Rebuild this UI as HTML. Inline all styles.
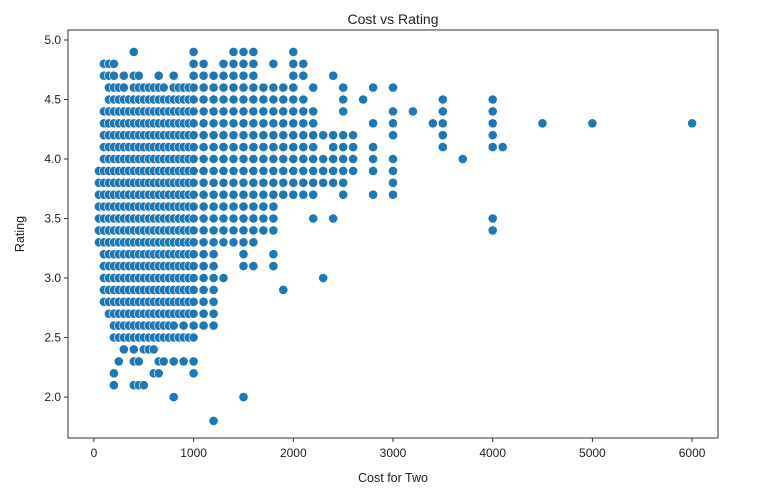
<!DOCTYPE html>
<html><head><meta charset="utf-8"><style>
body{margin:0;background:#fff;width:764px;height:492px;overflow:hidden}
svg{font-family:"Liberation Sans","DejaVu Sans",sans-serif}
</style></head><body>
<svg id="chart" width="764" height="492">
<text x="393" y="24" text-anchor="middle" font-size="14" fill="#222">Cost vs Rating</text>
<rect x="68" y="30" width="650" height="408" fill="none" stroke="#333" stroke-width="1"/>
<g id="points"></g>
<g id="xaxis"></g>
<g id="yaxis"></g>
<text x="393" y="482" text-anchor="middle" font-size="12.5" fill="#222">Cost for Two</text>
<text x="24" y="234" text-anchor="middle" font-size="12.5" fill="#222" transform="rotate(-90 24 234)">Rating</text>
</svg>
<script>
const xTicks=[0,1000,2000,3000,4000,5000,6000];
const yTicks=[2.0,2.5,3.0,3.5,4.0,4.5,5.0];
// cost for two per column
const costs=[50,100,150,200,250,300,350,400,450,500,550,600,650,700,750,800,850,900,950,1000,1100,1200,1300,1400,1500,1600,1700,1800,1900,2000,2100,2200,2300,2400,2500,2600,2700,2800,3000,3200,3400,3500,3700,4000,4100,4500,5000,6000];
// ratings (x10) per column
const ratingsX10=[
[33,34,35,36,37,38,39],
[28,29,30,31,32,33,34,35,36,37,38,39,40,41,42,43,44,47,48],
[27,28,29,30,31,32,33,34,35,36,37,38,39,40,41,42,43,44,45,46,47,48],
[21,22,25,26,27,28,29,30,31,32,33,34,35,36,37,38,39,40,41,42,43,44,45,46,47,48],
[23,25,26,27,28,29,30,31,32,33,34,35,36,37,38,39,40,41,42,43,44,45,46],
[24,25,26,27,28,29,30,31,32,33,34,35,36,37,38,39,40,41,42,43,44,45,46,47],
[25,26,27,28,29,30,31,32,33,34,35,36,37,38,39,40,41,42,43,44,45],
[21,23,24,25,26,27,28,29,30,31,32,33,34,35,36,37,38,39,40,41,42,43,44,45,46,47,49],
[21,23,25,26,27,28,29,30,31,32,33,34,35,36,37,38,39,40,41,42,43,44,45,46,47],
[21,24,25,26,27,28,29,30,31,32,33,34,35,36,37,38,39,40,41,42,43,44,45,46],
[24,25,26,27,28,29,30,31,32,33,34,35,36,37,38,39,40,41,42,43,44,45,46],
[22,24,25,26,27,28,29,30,31,32,33,34,35,36,37,38,39,40,41,42,43,44,45,46],
[22,23,25,26,27,28,29,30,31,32,33,34,35,36,37,38,39,40,41,42,43,44,45,46,47],
[23,25,26,27,28,29,30,31,32,33,34,35,36,37,38,39,40,41,42,43,44,45,46],
[25,26,27,28,29,30,31,32,33,34,35,36,37,38,39,40,41,42,43,44,45],
[20,23,25,26,27,28,29,30,31,32,33,34,35,36,37,38,39,40,41,42,43,44,45,46,47],
[25,27,28,29,30,31,32,33,34,35,36,37,38,39,40,41,42,43,44,45,46],
[23,25,26,27,28,29,30,31,32,33,34,35,36,37,38,39,40,41,42,43,44,45,46],
[25,27,28,29,30,31,32,33,34,35,36,37,38,39,40,41,42,43,44,45,46],
[22,23,25,26,27,28,29,30,31,32,33,34,35,36,37,38,39,40,41,42,43,44,45,46,47,48,49],
[26,27,28,29,30,31,32,33,34,35,36,37,38,39,40,41,42,43,44,45,46,47,48],
[18,26,27,28,29,30,31,32,33,34,35,36,37,38,39,40,41,42,43,44,45,46,47],
[30,33,34,35,36,37,38,39,40,41,42,43,44,45,46,47,48],
[33,34,35,36,37,38,39,40,41,42,43,44,45,46,47,48,49],
[20,31,32,33,34,35,36,37,38,39,40,41,42,43,44,45,46,47,48,49],
[31,33,34,35,36,37,38,39,40,41,42,43,44,45,46,47,48,49],
[34,35,36,37,38,39,40,41,42,43,44,45,46],
[31,32,34,35,36,37,38,39,40,41,42,43,44,45,46,48],
[29,37,38,39,40,41,42,43,44,45,46],
[37,38,39,40,41,42,43,44,45,46,47,48,49],
[37,38,39,40,41,42,43,44,45,47,48],
[35,37,38,39,40,41,42,43,44,46],
[30,38,39,40,42],
[35,38,39,40,41,42,47],
[37,38,39,40,41,42,44,45,46],
[39,40,41,42],
[45],
[37,39,40,41,43,46],
[37,38,39,40,42,43,44,46],
[44],
[43],
[41,42,43,44,45],
[40],
[34,35,41,42,43,44,45],
[41],
[43],
[43],
[43]
];
const X0=68,X1=718,xMin=-260,xMax=6260;
const Y0=30,Y1=438,yMin=1.656,yMax=5.084;
function sx(v){return X0+(v-xMin)/(xMax-xMin)*(X1-X0);}
function sy(v){return Y1-(v-yMin)/(yMax-yMin)*(Y1-Y0);}
const NS="http://www.w3.org/2000/svg";
const pg=document.getElementById('points');
costs.forEach((c,i)=>{
  ratingsX10[i].forEach(r=>{
    const el=document.createElementNS(NS,'circle');
    el.setAttribute('cx',sx(c).toFixed(1));
    el.setAttribute('cy',sy(r/10).toFixed(1));
    el.setAttribute('r','4.6');
    el.setAttribute('fill','#1f77b4');
    el.setAttribute('stroke','#fff');
    el.setAttribute('stroke-width','0.6');
    
    
    pg.appendChild(el);
  });
});
const xg=document.getElementById('xaxis');
xTicks.forEach(t=>{
  const x=sx(t);
  const l=document.createElementNS(NS,'line');
  l.setAttribute('x1',x);l.setAttribute('x2',x);l.setAttribute('y1',Y1);l.setAttribute('y2',Y1+4);
  l.setAttribute('stroke','#333');
  
  
  xg.appendChild(l);
  const tx=document.createElementNS(NS,'text');
  tx.setAttribute('x',x);tx.setAttribute('y',Y1+19);tx.setAttribute('text-anchor','middle');
  tx.setAttribute('font-size','12');tx.setAttribute('fill','#222');
  tx.textContent=t;
  
  
  xg.appendChild(tx);
});
const yg=document.getElementById('yaxis');
yTicks.forEach(t=>{
  const y=sy(t);
  const l=document.createElementNS(NS,'line');
  l.setAttribute('x1',X0-4);l.setAttribute('x2',X0);l.setAttribute('y1',y);l.setAttribute('y2',y);
  l.setAttribute('stroke','#333');
  
  
  yg.appendChild(l);
  const tx=document.createElementNS(NS,'text');
  tx.setAttribute('x',X0-7);tx.setAttribute('y',y+4);tx.setAttribute('text-anchor','end');
  tx.setAttribute('font-size','12');tx.setAttribute('fill','#222');
  tx.textContent=t.toFixed(1);
  
  
  yg.appendChild(tx);
});
</script>
</body></html>
